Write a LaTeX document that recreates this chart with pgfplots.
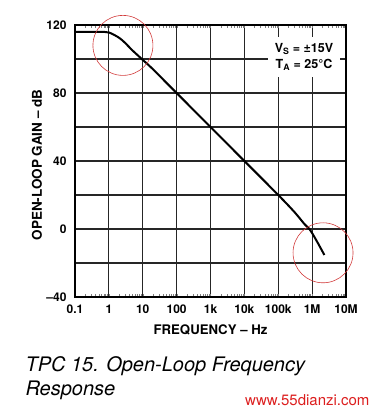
\documentclass[border=0pt]{standalone}
\usepackage{fontspec}
\setmainfont{TeX Gyre Heros}
\usepackage{pgfplots}
\pgfplotsset{compat=1.18}
\definecolor{circred}{RGB}{210,60,60}
\definecolor{wmred}{RGB}{220,30,30}
\begin{document}
\begin{tikzpicture}
\path[use as bounding box] (-75pt,-116pt) rectangle (304pt,297pt);
\begin{axis}[
  at={(0pt,0pt)}, anchor=south west,
  scale only axis, width=271pt, height=272pt,
  xmode=log, xmin=0.1, xmax=1e7,
  ymin=-40, ymax=120,
  xtick={0.1,1,10,100,1000,10000,100000,1000000,10000000},
  xticklabels={0.1,1,10,100,1k,10k,100k,1M,10M},
  ytick={-40,-20,0,20,40,60,80,100,120},
  yticklabels={\textendash40,,0,,40,,80,,120},
  minor xtick={},
  major tick length=0pt,
  grid=major,
  major grid style={black!85, line width=1.1pt},
  axis line style={black, line width=2pt},
  /pgf/number format/assume math mode=true,
  tick label style={font=\fontsize{12}{12}\selectfont\bfseries},
  xticklabel style={yshift=-4pt},
  yticklabel style={xshift=-5pt},
  clip=false,
]
\addplot[black, line width=2pt, smooth, tension=0.5] coordinates {
(0.1,116) (0.5,115.9) (1,115.6) (2,112.5) (3,109.5) (5,105) (10,99.5)
(20,94) (50,86) (100,80) (1000,60) (10000,40) (100000,20)
(300000,10) (600000,2.8) (830000,0) (1000000,-2.4) (1500000,-8.5) (2300000,-15.3)
};
\node[fill=white, inner xsep=7pt, inner ysep=6pt, align=center, font=\fontsize{12.5}{16.6}\selectfont\bfseries]
  at (axis cs:575000,101.2) {V\textsubscript{S} = ±15V\\T\textsubscript{A} = 25°C};
\draw[circred, line width=0.6pt] (axis cs:2.6,108) circle[radius=30pt];
\draw[circred, line width=0.6pt] (axis cs:2100000,-14) circle[radius=30pt];
\end{axis}
\node[rotate=90, font=\fontsize{13.5}{14}\selectfont\bfseries] at (-38pt,132pt) {OPEN-LOOP GAIN \textendash{} dB};
\node[font=\fontsize{13.2}{14}\selectfont\bfseries] at (135.5pt,-33pt) {FREQUENCY \textendash{} Hz};
\node[anchor=base west, font=\fontsize{20}{25}\selectfont\itshape] at (-53pt,-74.7pt) {TPC 15. Open-Loop Frequency};
\node[anchor=base west, font=\fontsize{20}{25}\selectfont\itshape] at (-53pt,-98pt) {Response};
\node[anchor=base east, font=\fontsize{15}{16}\selectfont, text=wmred] at (298pt,-108pt) {www.55dianzi.com};
\end{tikzpicture}
\end{document}
